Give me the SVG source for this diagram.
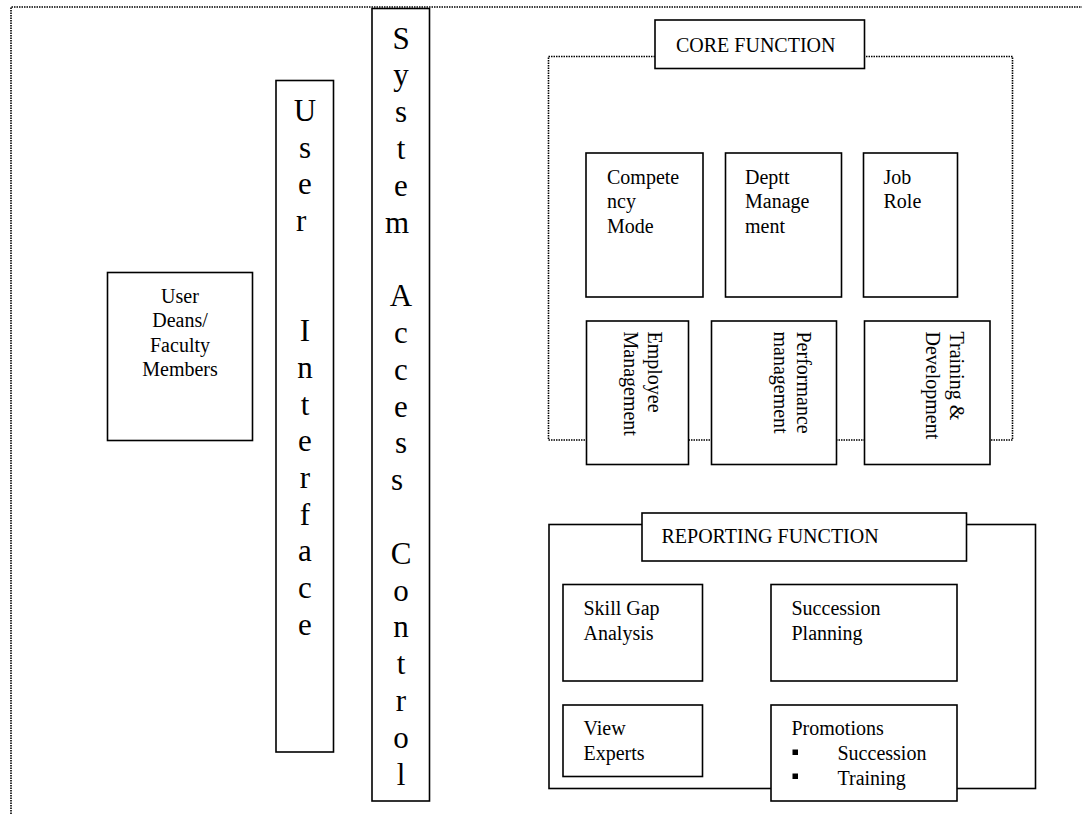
<svg xmlns="http://www.w3.org/2000/svg" width="1082" height="814" viewBox="0 0 1082 814">
<style>
  .bx{fill:#fff;stroke:#000;stroke-width:1.6}
  .dot{fill:none;stroke:#000;stroke-width:1.6;stroke-dasharray:1.5 1}
  .t{font-family:"Liberation Serif","Times New Roman",serif;font-size:20px;fill:#000}
  .big{font-family:"Liberation Serif","Times New Roman",serif;font-size:31px;fill:#000;text-anchor:middle}
</style>
<rect width="1082" height="814" fill="#fff"/>
<g id="frame">
  <path class="dot" d="M11,814 V7 H1082"/>
</g>
<g id="connectors"></g>
<g id="user">
  <rect class="bx" x="107.5" y="272.5" width="145" height="168"/>
  <text class="t" text-anchor="middle"><tspan x="180" y="303">User</tspan><tspan x="180" y="327">Deans/</tspan><tspan x="180" y="351.5">Faculty</tspan><tspan x="180" y="376">Members</tspan></text>
</g>
<g id="user-interface">
  <rect class="bx" x="276" y="80.5" width="57.5" height="671.5"/>
  <text class="big">
    <tspan x="305" y="121">U</tspan><tspan x="305" y="157.7">s</tspan><tspan x="305" y="194.4">e</tspan><tspan x="305" y="231.1">r</tspan>
    <tspan x="305" y="341.2">I</tspan><tspan x="305" y="377.9">n</tspan><tspan x="305" y="414.6">t</tspan><tspan x="305" y="451.3">e</tspan><tspan x="305" y="488">r</tspan><tspan x="305" y="524.7">f</tspan><tspan x="305" y="561.4">a</tspan><tspan x="305" y="598.1">c</tspan><tspan x="305" y="634.8">e</tspan>
  </text>
</g>
<g id="system-access-control">
  <rect class="bx" x="372" y="8.5" width="57.5" height="792.5"/>
  <text class="big">
    <tspan x="401" y="48.5">S</tspan><tspan x="401" y="85.3">y</tspan><tspan x="401" y="122.1">s</tspan><tspan x="401" y="158.9">t</tspan><tspan x="401" y="195.7">e</tspan><tspan x="401" y="232.5">m</tspan>
    <tspan x="401" y="306.1">A</tspan><tspan x="401" y="342.9">c</tspan><tspan x="401" y="379.7">c</tspan><tspan x="401" y="416.5">e</tspan><tspan x="401" y="453.3">s</tspan><tspan x="401" y="490.1">s</tspan>
    <tspan x="401" y="563.7">C</tspan><tspan x="401" y="600.5">o</tspan><tspan x="401" y="637.3">n</tspan><tspan x="401" y="674.1">t</tspan><tspan x="401" y="710.9">r</tspan><tspan x="401" y="747.7">o</tspan><tspan x="401" y="784.5">l</tspan>
  </text>
</g>
<g id="core-function">
  <rect class="dot" x="548.5" y="56.5" width="464" height="383.5"/>
  <rect class="bx" x="655" y="20" width="209.5" height="48.5"/>
  <text class="t" x="676" y="52">CORE FUNCTION</text>
</g>
<g id="competency">
  <rect class="bx" x="586" y="153" width="117" height="144"/>
  <text class="t"><tspan x="607" y="184">Compete</tspan><tspan x="607" y="208">ncy</tspan><tspan x="607" y="232.5">Mode</tspan></text>
</g>
<g id="deptt">
  <rect class="bx" x="725.5" y="153" width="116" height="144"/>
  <text class="t"><tspan x="745" y="184">Deptt</tspan><tspan x="745" y="208">Manage</tspan><tspan x="745" y="232.5">ment</tspan></text>
</g>
<g id="job-role">
  <rect class="bx" x="863.5" y="153" width="94" height="144"/>
  <text class="t"><tspan x="883.5" y="184">Job</tspan><tspan x="883.5" y="208">Role</tspan></text>
</g>
<g id="employee">
  <rect class="bx" x="586.5" y="321" width="102" height="143.5"/>
  <text class="t" transform="translate(648,331.5) rotate(90)"><tspan x="0" y="0">Employee</tspan><tspan x="0" y="24">Management</tspan></text>
</g>
<g id="performance">
  <rect class="bx" x="711.5" y="321" width="125" height="143.5"/>
  <text class="t" transform="translate(797,331.5) rotate(90)"><tspan x="0" y="0">Performance</tspan><tspan x="0" y="23.5">management</tspan></text>
</g>
<g id="training">
  <rect class="bx" x="864.5" y="321" width="125.5" height="143.5"/>
  <text class="t" transform="translate(950,331.5) rotate(90)"><tspan x="0" y="0">Training &amp;</tspan><tspan x="0" y="24.5">Development</tspan></text>
</g>
<g id="reporting-function">
  <rect class="bx" x="549" y="524.5" width="486.5" height="264"/>
  <rect class="bx" x="642" y="513" width="324.5" height="48"/>
  <text class="t" x="661.5" y="543">REPORTING FUNCTION</text>
</g>
<g id="skill-gap">
  <rect class="bx" x="563" y="584.5" width="139.5" height="96.5"/>
  <text class="t"><tspan x="583.5" y="615">Skill Gap</tspan><tspan x="583.5" y="640">Analysis</tspan></text>
</g>
<g id="succession-planning">
  <rect class="bx" x="771" y="584.5" width="186" height="96.5"/>
  <text class="t"><tspan x="791.5" y="615">Succession</tspan><tspan x="791.5" y="640">Planning</tspan></text>
</g>
<g id="view-experts">
  <rect class="bx" x="563" y="705" width="139.5" height="71.5"/>
  <text class="t"><tspan x="583.5" y="735">View</tspan><tspan x="583.5" y="760">Experts</tspan></text>
</g>
<g id="promotions">
  <rect class="bx" x="771" y="705" width="186" height="96"/>
  <text class="t"><tspan x="791.5" y="735">Promotions</tspan><tspan x="837.5" y="760">Succession</tspan><tspan x="837.5" y="785">Training</tspan></text>
  <rect x="792.5" y="749.5" width="5.5" height="5.5" fill="#000"/>
  <rect x="792.5" y="773.5" width="5.5" height="5.5" fill="#000"/>
</g>
</svg>
